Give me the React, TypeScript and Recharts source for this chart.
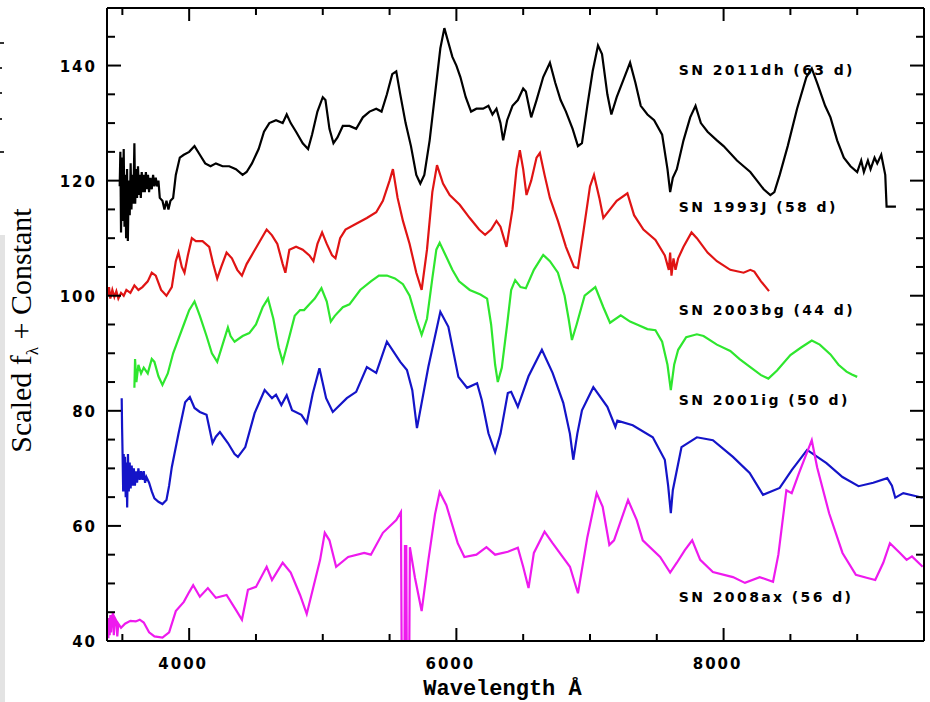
import React from 'react'
import { LineChart, Line, XAxis, YAxis, ReferenceDot } from 'recharts'

type Pt = [number, number]

// [wavelength Å, scaled flux + constant]
const sn2011dh: Pt[] = [
  [3480, 119], [3485, 125], [3490, 111], [3497, 124], [3503, 113], [3510, 125.5], [3516, 112],
  [3522, 121], [3528, 110], [3535, 122], [3541, 109.5], [3548, 120], [3555, 114], [3562, 123],
  [3568, 115], [3575, 121], [3582, 116], [3590, 126.5], [3596, 116], [3603, 122], [3610, 117],
  [3617, 122.5], [3624, 117.5], [3631, 121], [3638, 117], [3645, 121.5], [3652, 118], [3660, 121],
  [3668, 118], [3676, 121.5], [3684, 118.5], [3692, 121], [3700, 118], [3710, 120.5], [3720, 118.5],
  [3730, 121], [3740, 119], [3750, 120.5], [3760, 119], [3770, 120], [3780, 117],
  [3800, 116.5], [3815, 115], [3830, 116.5], [3845, 115], [3860, 116.5], [3880, 117], [3900, 121], [3930, 124], [3960, 124.5],
  [4000, 125], [4040, 126], [4080, 124.5], [4120, 123], [4160, 122.5], [4200, 123], [4250, 122.5],
  [4300, 122.5], [4350, 122], [4400, 121], [4430, 121.5], [4470, 123], [4520, 125.5], [4560, 128.5],
  [4600, 130], [4650, 130.5], [4700, 130], [4730, 131.5], [4760, 130], [4800, 128.5], [4850, 126.5],
  [4890, 125.5], [4920, 128], [4960, 132], [5000, 134.5], [5020, 134], [5050, 129], [5080, 126.5],
  [5110, 127.5], [5150, 129.5], [5200, 129.5], [5250, 129], [5300, 131], [5350, 132], [5400, 132.5],
  [5440, 132], [5480, 135], [5520, 138.5], [5550, 139], [5580, 135], [5620, 130], [5660, 126],
  [5700, 121], [5730, 119.5], [5760, 121], [5800, 127], [5840, 135], [5880, 143], [5910, 146.5],
  [5940, 144], [5970, 141.5], [6000, 140], [6030, 138], [6070, 134.5], [6110, 132], [6150, 132.5],
  [6200, 132.5], [6240, 133], [6270, 131.5], [6300, 132.5], [6330, 130], [6350, 127], [6380, 130.5],
  [6420, 133], [6460, 134], [6500, 136], [6520, 135.5], [6560, 131], [6600, 134], [6650, 138],
  [6700, 140.5], [6740, 137], [6780, 134], [6820, 132], [6870, 129], [6910, 126], [6940, 126.5],
  [6980, 133], [7020, 139], [7060, 143.5], [7090, 142], [7130, 135], [7160, 131.5], [7200, 134.5],
  [7250, 137.5], [7300, 140.5], [7340, 137], [7380, 133], [7430, 131.5], [7480, 130.5], [7540, 128],
  [7580, 122], [7600, 118], [7620, 120.5], [7650, 122], [7700, 127], [7750, 131], [7790, 133],
  [7830, 130], [7880, 128.5], [7950, 127], [8000, 126], [8100, 123.5], [8150, 122.5], [8200, 121.5],
  [8250, 120], [8300, 118.5], [8350, 117.5], [8380, 118], [8420, 121], [8480, 126], [8550, 132.5],
  [8620, 138], [8660, 139.5], [8700, 137], [8760, 133], [8800, 131], [8850, 127], [8900, 124],
  [8950, 122.5], [9000, 121.5], [9030, 123.5], [9050, 121.5], [9080, 123.5], [9100, 122], [9130, 124],
  [9150, 123], [9180, 124.5], [9210, 121], [9220, 115.5], [9290, 115.5],
]

const sn1993J: Pt[] = [
  [3390, 100], [3400, 101.5], [3410, 99.5], [3425, 101], [3440, 99.8], [3455, 100.8], [3470, 99.5],
  [3490, 100.5], [3510, 100], [3530, 101], [3560, 100.5], [3590, 101.8], [3620, 101], [3650, 101.5],
  [3690, 102.5], [3720, 104], [3750, 103.5], [3790, 101], [3830, 100], [3870, 101.5], [3900, 106],
  [3920, 107.5], [3945, 105], [3965, 104], [3990, 107], [4020, 110], [4050, 109.5], [4100, 109.5],
  [4150, 108.5], [4180, 105.5], [4210, 103], [4240, 105], [4280, 107.5], [4320, 106.5], [4360, 104.5],
  [4395, 103.5], [4430, 105.5], [4480, 107.5], [4530, 109.5], [4580, 111.5], [4620, 110.5], [4660, 109],
  [4700, 105.5], [4720, 104], [4750, 108], [4800, 108.5], [4850, 108], [4900, 107], [4930, 106],
  [4960, 109], [4995, 111], [5030, 109], [5070, 107], [5095, 106.5], [5130, 110], [5170, 111.5],
  [5250, 112.5], [5330, 113.5], [5400, 114.5], [5450, 116.5], [5500, 120], [5525, 122], [5560, 117],
  [5600, 113], [5650, 109], [5700, 104], [5740, 101], [5780, 108], [5820, 118], [5855, 122.7],
  [5900, 119.5], [5950, 117.5], [6025, 115.8], [6100, 113.5], [6170, 111.5], [6215, 110.6], [6260, 111.5],
  [6300, 113], [6330, 112], [6375, 108.5], [6420, 115], [6450, 122], [6475, 125.3], [6500, 122],
  [6525, 117.5], [6560, 120], [6600, 124], [6625, 124.8], [6660, 121], [6700, 117], [6760, 113],
  [6820, 108.5], [6880, 105], [6910, 104.8], [6950, 111], [7000, 119], [7030, 121], [7070, 117],
  [7100, 113.5], [7150, 115], [7200, 116.5], [7280, 117.8], [7330, 114], [7400, 111.5], [7490, 109.7],
  [7560, 107], [7590, 104.5], [7600, 107.5], [7610, 103.5], [7625, 106.5], [7640, 104.5], [7660, 106.5],
  [7700, 108.5], [7760, 111], [7800, 110], [7880, 107.5], [7950, 106], [8050, 104.5], [8150, 104],
  [8200, 104.5], [8230, 104.2], [8280, 102.5], [8340, 100.8],
]

const sn2003bg: Pt[] = [
  [3590, 84], [3595, 89], [3605, 85], [3620, 88], [3640, 86.5], [3660, 87.5], [3690, 86.5], [3720, 89],
  [3740, 88.5], [3770, 86], [3800, 84.5], [3840, 86.5], [3880, 90], [3920, 92.5], [3960, 95], [4000, 97.5],
  [4040, 99], [4080, 96.5], [4130, 93], [4170, 90], [4210, 88.5], [4250, 91.5], [4290, 94.5], [4310, 93],
  [4340, 92], [4400, 93], [4450, 93.5], [4500, 95], [4550, 98], [4590, 99.5], [4630, 96], [4670, 91],
  [4700, 88.5], [4740, 92], [4790, 96.5], [4830, 97.5], [4860, 97.5], [4900, 98.5], [4940, 99.5],
  [4990, 101.3], [5030, 99], [5060, 95.5], [5090, 96.5], [5150, 98], [5200, 98.5], [5280, 101],
  [5360, 102.5], [5420, 103.5], [5480, 103.5], [5540, 103], [5600, 102], [5650, 100], [5700, 96],
  [5740, 93.2], [5780, 96], [5820, 103], [5850, 108], [5875, 109.2], [5920, 107], [5970, 104.5],
  [6020, 102.5], [6100, 101], [6180, 100.2], [6230, 99.5], [6260, 95], [6290, 88], [6310, 85],
  [6340, 87.5], [6380, 95], [6410, 101], [6440, 102.7], [6480, 101.5], [6520, 101.3], [6580, 104.5],
  [6650, 107.1], [6700, 106], [6760, 104], [6810, 100], [6840, 96], [6865, 92.3], [6900, 95], [6960, 100],
  [7040, 101.5], [7100, 98], [7150, 95.3], [7230, 96.6], [7300, 95.5], [7360, 94.9], [7430, 94.2],
  [7490, 94], [7540, 92], [7580, 88], [7605, 83.6], [7630, 88], [7660, 90.6], [7720, 92.8], [7800, 93.3],
  [7850, 93], [7950, 91.5], [8050, 90.4], [8120, 89], [8200, 87.6], [8280, 86.2], [8335, 85.6], [8400, 87],
  [8500, 89.7], [8580, 91], [8660, 92.2], [8720, 91.5], [8800, 89.8], [8860, 88], [8920, 86.8],
  [8960, 86.3], [9000, 85.9],
]

const sn2001ig: Pt[] = [
  [3495, 82.2], [3498, 77], [3502, 72], [3506, 66], [3510, 72.5], [3515, 66], [3520, 72], [3525, 65],
  [3530, 71], [3536, 63.2], [3542, 72.5], [3548, 66], [3555, 71], [3562, 66.5], [3570, 70.5], [3578, 67],
  [3586, 70], [3594, 67], [3602, 69.5], [3610, 67.5], [3620, 70], [3630, 68], [3640, 69.5], [3650, 68],
  [3660, 69.5], [3670, 67.5], [3680, 68.5], [3700, 67.5], [3720, 66], [3740, 64.8], [3770, 64.2],
  [3800, 63.8], [3830, 64.5], [3850, 67],
  [3870, 70.2], [3920, 76], [3970, 81.5], [4005, 82.4], [4040, 80.5], [4080, 79.8], [4130, 79.3],
  [4175, 74.4], [4200, 75.5], [4230, 76.3], [4290, 74.4], [4340, 72.5], [4365, 72], [4420, 73.7],
  [4490, 79.6], [4565, 83.6], [4620, 82.2], [4650, 82.8], [4690, 81], [4730, 82.7], [4770, 80.1],
  [4840, 79.3], [4880, 77.9], [4925, 83], [4975, 87.4], [5025, 82.2], [5075, 79.8], [5180, 82.2],
  [5250, 83.3], [5330, 87.6], [5400, 86.6], [5480, 92], [5580, 88.5], [5630, 87.1], [5670, 83.6],
  [5705, 77], [5790, 87.6], [5880, 97.2], [5940, 94.6], [6015, 85.9], [6080, 84], [6155, 84.8],
  [6190, 81.9], [6240, 76.1], [6290, 72.8], [6330, 76], [6385, 83.1], [6410, 83.3], [6460, 80.7],
  [6540, 86], [6640, 90.6], [6720, 86.6], [6800, 81.4], [6850, 76], [6875, 71.5], [6905, 76],
  [6940, 80.1], [7025, 84.1], [7130, 80.7], [7190, 77.2], [7205, 78.3], [7320, 77.5], [7470, 75.4],
  [7560, 71.5], [7585, 67], [7605, 62.2], [7620, 66.2], [7685, 73.7], [7800, 75.4], [7920, 74.9],
  [8070, 72], [8195, 69.2], [8295, 65.4], [8420, 66.6], [8510, 69.7], [8625, 73.2], [8770, 70.9],
  [8890, 68.5], [9010, 66.9], [9120, 67.5], [9225, 68.3], [9260, 67], [9285, 64.9], [9345, 65.7],
  [9435, 65.2], [9490, 64.9],
]

const sn2008ax: Pt[] = [
  [3390, 42.8], [3395, 40.5], [3400, 44], [3405, 41], [3410, 44.5], [3415, 41.5], [3420, 43.5],
  [3430, 45], [3436, 41], [3444, 44], [3455, 43.5], [3462, 40.8], [3470, 43],
  [3490, 42.3], [3520, 43], [3560, 43.5], [3600, 43.4], [3630, 43.7], [3660, 43.2], [3700, 41.5],
  [3740, 40.8], [3800, 40.6], [3850, 41.5], [3900, 45.2], [3960, 46.8], [4000, 48.5], [4030, 49.7],
  [4080, 47.7], [4140, 49.2], [4200, 47.5], [4280, 48], [4350, 45.4], [4395, 43.7], [4440, 48.9],
  [4500, 49.4], [4580, 52.9], [4620, 50.6], [4700, 53.6], [4760, 51.9], [4830, 48], [4880, 44.7],
  [4980, 54.1], [5015, 58.8], [5050, 57.5], [5100, 52.9], [5190, 54.6], [5310, 55.3], [5360, 55],
  [5450, 58.8], [5550, 61], [5585, 62.4], [5590, 40], [5612, 40], [5615, 56.5], [5625, 56.5], [5628, 40],
  [5648, 40], [5652, 56.3], [5690, 51], [5740, 45.2], [5790, 54], [5840, 62], [5875, 65.9], [5925, 63.6],
  [6010, 57], [6060, 54.6], [6150, 55], [6225, 56.3], [6290, 55], [6385, 55.5], [6460, 56.2], [6500, 52.9],
  [6540, 49.2], [6580, 55.3], [6660, 59], [6720, 57], [6850, 52.9], [6910, 48.3], [6980, 58], [7050, 65.7],
  [7095, 63.3], [7145, 56.7], [7180, 57.5], [7285, 64.5], [7350, 61], [7395, 57.5], [7525, 54.6],
  [7600, 51.9], [7650, 53.6], [7710, 55.8], [7765, 57.5], [7825, 54.1], [7920, 52], [8070, 51.1],
  [8160, 50.1], [8270, 51.1], [8370, 50.3], [8410, 55], [8470, 66.2], [8510, 65.7], [8565, 69.2],
  [8660, 74.9], [8700, 70.2], [8790, 62.2], [8890, 55.3], [8990, 51.5], [9070, 51], [9135, 50.6],
  [9195, 53.6], [9245, 57], [9320, 55.3], [9370, 54.1], [9410, 54.7], [9490, 52.9],
]

const NAMES = ['SN 2011dh (63 d)', 'SN 1993J (58 d)', 'SN 2003bg (44 d)', 'SN 2001ig (50 d)', 'SN 2008ax (56 d)']
const COLORS = ['#000000', '#e01414', '#2ee62e', '#1414c8', '#ee1aee']
const LABEL_WL = 7665
const LABEL_FLUX = [139.2, 115.4, 97.5, 81.9, 47.6]

const X_TICKS = [3500, 4000, 4500, 5000, 5500, 6000, 6500, 7000, 7500, 8000, 8500, 9000]
const X_LABELS = [4000, 6000, 8000]
const Y_TICKS = [40, 45, 50, 55, 60, 65, 70, 75, 80, 85, 90, 95, 100, 105, 110, 115, 120, 125, 130, 135, 140, 145, 150]
const Y_LABELS = [40, 60, 80, 100, 120, 140]

const spectra = [sn2011dh, sn1993J, sn2003bg, sn2001ig, sn2008ax].map((pts) => pts.map(([w, f]) => ({ w, f })))

const tickFont = {
  fontFamily: '"DejaVu Sans", sans-serif',
  fontWeight: 700,
  fontSize: 15,
  letterSpacing: 2,
  fill: '#000',
}

const annoFont = {
  fontFamily: '"DejaVu Sans", sans-serif',
  fontWeight: 700,
  fontSize: 14,
  letterSpacing: 2.4,
  fill: '#000',
}

function BottomTick({ x, y, payload }: any) {
  const major = X_LABELS.includes(payload.value)
  return (
    <g>
      <line x1={x} y1={y} x2={x} y2={y - (major ? 13 : 7)} stroke="#000" strokeWidth={2} />
      {major && (
        <text x={x - 6} y={y + 28} textAnchor="middle" style={tickFont}>
          {payload.value}
        </text>
      )}
    </g>
  )
}

function TopTick({ x, y, payload }: any) {
  const major = X_LABELS.includes(payload.value)
  return <line x1={x} y1={y} x2={x} y2={y + (major ? 13 : 7)} stroke="#000" strokeWidth={2} />
}

function LeftTick({ x, y, payload }: any) {
  const major = Y_LABELS.includes(payload.value)
  return (
    <g>
      <line x1={x} y1={y} x2={x + (major ? 14 : 8)} y2={y} stroke="#000" strokeWidth={2} />
      {major && (
        <text x={x - 10} y={y + 6} textAnchor="end" style={tickFont}>
          {payload.value}
        </text>
      )}
    </g>
  )
}

function RightTick({ x, y, payload }: any) {
  const major = Y_LABELS.includes(payload.value)
  return <line x1={x} y1={y} x2={x - (major ? 14 : 8)} y2={y} stroke="#000" strokeWidth={2} />
}

function XTitle({ viewBox }: any) {
  const cx = viewBox.x + viewBox.width / 2 - 13
  return (
    <text
      x={cx}
      y={viewBox.y + 54}
      textAnchor="middle"
      style={{ fontFamily: '"Liberation Mono", monospace', fontWeight: 700, fontSize: 22, fill: '#000' }}
    >
      Wavelength Å
    </text>
  )
}

function YTitle({ viewBox }: any) {
  const x = viewBox.x + viewBox.width - 76
  const y = viewBox.y + viewBox.height / 2 + 6
  return (
    <text
      x={x}
      y={y}
      transform={`rotate(-90 ${x} ${y})`}
      textAnchor="middle"
      style={{ fontFamily: '"Liberation Serif", serif', fontSize: 30, fill: '#000' }}
    >
      Scaled f
      <tspan dy={7} fontSize={17}>λ</tspan>
      <tspan dy={-7}> + Constant</tspan>
    </text>
  )
}

function SpecLabel({ viewBox, value }: any) {
  const x = viewBox.x + viewBox.width / 2
  const y = viewBox.y + viewBox.height / 2 + 5
  return (
    <text x={x} y={y} style={annoFont}>
      {value}
    </text>
  )
}

const frame = { stroke: '#000', strokeWidth: 2 }

// stray marks along the left edge of the scanned figure
const edgeMarks = [
  { top: 42, w: 4 },
  { top: 67, w: 2 },
  { top: 92, w: 2 },
  { top: 118, w: 2 },
  { top: 151, w: 4 },
]

export default function App() {
  return (
    <div style={{ position: 'absolute', left: 0, top: 0, width: 930, height: 702, background: '#fff' }}>
      <div style={{ position: 'absolute', left: 0, top: 235, width: 5, height: 467, background: '#e3e3e3' }} />
      {edgeMarks.map((m) => (
        <div
          key={m.top}
          style={{ position: 'absolute', left: 0, top: m.top, width: m.w, height: 2, background: '#333' }}
        />
      ))}
      <LineChart width={930} height={702} margin={{ top: 7, right: 5, bottom: 60, left: 106 }}>
        <XAxis
          xAxisId="b"
          dataKey="w"
          type="number"
          domain={[3385, 9500]}
          allowDataOverflow
          ticks={X_TICKS}
          interval={0}
          height={1}
          tickSize={0}
          tickMargin={0}
          tickLine={false}
          axisLine={frame}
          tick={BottomTick}
          label={<XTitle />}
        />
        <XAxis
          xAxisId="t"
          orientation="top"
          dataKey="w"
          type="number"
          domain={[3385, 9500]}
          allowDataOverflow
          ticks={X_TICKS}
          interval={0}
          height={1}
          tickSize={0}
          tickMargin={0}
          tickLine={false}
          axisLine={frame}
          tick={TopTick}
        />
        <YAxis
          yAxisId="l"
          type="number"
          domain={[40, 150]}
          allowDataOverflow
          ticks={Y_TICKS}
          interval={0}
          width={1}
          tickSize={0}
          tickMargin={0}
          tickLine={false}
          axisLine={frame}
          tick={LeftTick}
          label={<YTitle />}
        />
        <YAxis
          yAxisId="r"
          orientation="right"
          type="number"
          domain={[40, 150]}
          allowDataOverflow
          ticks={Y_TICKS}
          interval={0}
          width={1}
          tickSize={0}
          tickMargin={0}
          tickLine={false}
          axisLine={frame}
          tick={RightTick}
        />
        {spectra.map((d, i) => (
          <Line
            key={NAMES[i]}
            xAxisId="b"
            yAxisId="l"
            data={d}
            dataKey="f"
            type="linear"
            stroke={COLORS[i]}
            strokeWidth={2.2}
            dot={false}
            isAnimationActive={false}
          />
        ))}
        {NAMES.map((n, i) => (
          <ReferenceDot
            key={'lbl' + n}
            xAxisId="b"
            yAxisId="l"
            x={LABEL_WL}
            y={LABEL_FLUX[i]}
            r={1}
            fill="none"
            stroke="none"
            label={<SpecLabel value={n} />}
          />
        ))}
      </LineChart>
    </div>
  )
}
